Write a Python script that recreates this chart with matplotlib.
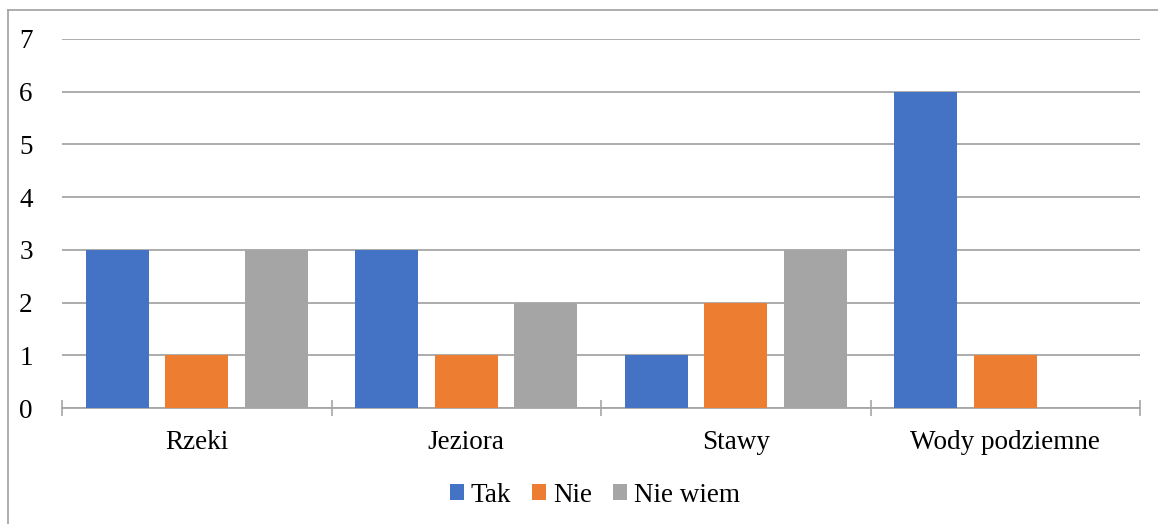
import matplotlib
matplotlib.use("Agg")
import matplotlib.pyplot as plt
from matplotlib.lines import Line2D
from matplotlib.patches import Patch
import numpy as np

categories = ["Rzeki", "Jeziora", "Stawy", "Wody podziemne"]
series_names = ["Tak", "Nie", "Nie wiem"]
tak = [3, 3, 1, 6]
nie = [1, 1, 2, 1]
nie_wiem = [3, 2, 3, 0]
y_ticks = [0, 1, 2, 3, 4, 5, 6, 7]

colors = ["#4472C4", "#ED7D31", "#A5A5A5"]
grid_color = "#A6A6A6"

plt.rcParams["font.family"] = ["Liberation Serif", "DejaVu Serif"]
FS = 19.5

W, H = 1158, 524
fig = plt.figure(figsize=(W / 100, H / 100), dpi=100)
ax = fig.add_axes([62 / W, 1 - 408 / H, (1140 - 62) / W, (408 - 39) / H])

x = np.arange(len(categories))
bar_w = 0.234
step = 0.295
for j, vals in enumerate([tak, nie, nie_wiem]):
    ax.bar(x + (j - 1) * step, vals, width=bar_w, color=colors[j],
           label=series_names[j], zorder=3)

ax.set_xlim(-0.5, len(categories) - 0.5)
ax.set_ylim(0, 7)
ax.set_yticks(y_ticks)
ax.set_yticklabels([str(v) for v in y_ticks], fontsize=FS)
ax.tick_params(axis="y", length=0, pad=21)
ax.yaxis.grid(True, color=grid_color, linewidth=1.3, zorder=0)

# category boundary ticks (crossing the axis) and centered labels
ax.set_xticks(np.arange(-0.5, len(categories), 1.0))
ax.set_xticklabels([])
ax.tick_params(axis="x", which="major", direction="inout", length=11,
               width=1.2, color=grid_color)
ax.set_xticks(x, minor=True)
ax.set_xticklabels(categories, minor=True, fontsize=FS)
ax.tick_params(axis="x", which="minor", length=0, pad=15.5)

for s in ["left", "right", "top"]:
    ax.spines[s].set_visible(False)
ax.spines["bottom"].set_color(grid_color)
ax.spines["bottom"].set_linewidth(1.3)

handles = [Patch(facecolor=c, edgecolor="none") for c in colors]
fig.legend(handles, series_names, loc="center", bbox_to_anchor=(595 / W, 1 - 495 / H),
           ncol=3, frameon=False, fontsize=FS, handlelength=0.5, handleheight=0.5,
           handletextpad=0.26, columnspacing=0.78, borderpad=0)

# outer chart frame
fig.add_artist(Line2D([8 / W, 8 / W], [0, 1 - 10 / H], transform=fig.transFigure,
                      color="#A0A0A0", linewidth=1.2))
fig.add_artist(Line2D([8 / W, 1], [1 - 10 / H, 1 - 10 / H], transform=fig.transFigure,
                      color="#A0A0A0", linewidth=1.2))

fig.savefig("out.png", dpi=100)
